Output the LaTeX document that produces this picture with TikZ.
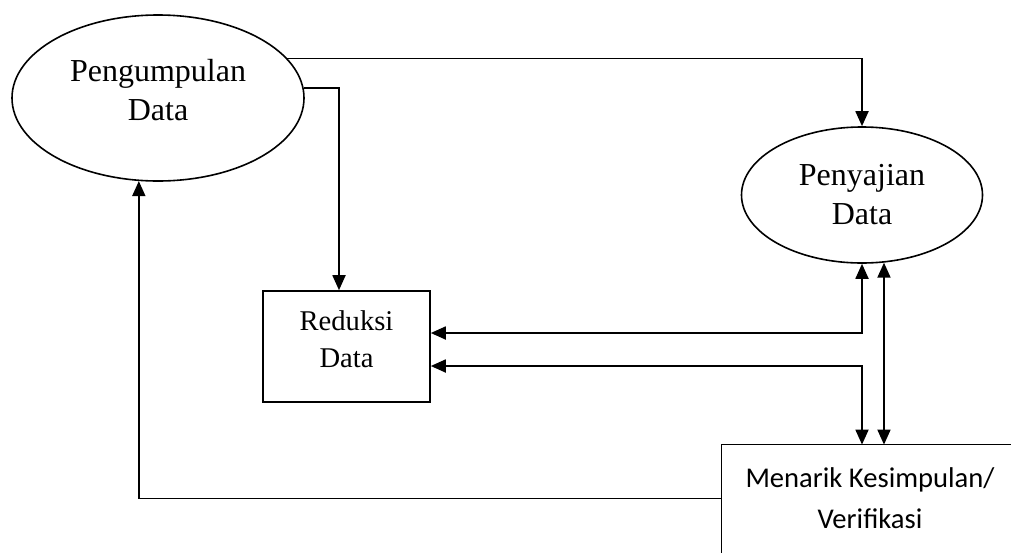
\documentclass[tikz,border=0pt]{standalone}
\usepackage{fontspec}
\setmainfont{Liberation Serif}
\newfontfamily\calibrifont{Carlito}
\usepackage{tikz}
\usetikzlibrary{shapes.geometric,arrows.meta,positioning}

\tikzset{
  stageoval/.style={draw,ellipse,line width=0.8pt,inner sep=0pt,align=center,
    font=\fontsize{16}{19.5}\selectfont},
  stagebox/.style={draw,rectangle,line width=0.8pt,inner sep=0pt,align=center},
  flow/.style={line width=0.9pt,-{Triangle[length=7.5pt,width=6.5pt]}},
  twoway/.style={line width=0.9pt,{Triangle[length=7.5pt,width=6.5pt]}-{Triangle[length=7.5pt,width=6.5pt]}},
}

\begin{document}
\begin{tikzpicture}[x=0.5pt,y=-0.5pt]
  \useasboundingbox (0,0) rectangle (1011,552);
  \clip (0,0) rectangle (1011,552);
  % Stages
  \node[stageoval,minimum width=146pt,minimum height=83pt,text depth=8pt] (kumpul) at (158,98) {Pengumpulan\\Data};
  \node[stageoval,minimum width=120.5pt,minimum height=68pt] (saji) at (862,195) {Penyajian\\Data};
  \node[stagebox,minimum width=83.5pt,minimum height=55.5pt,text depth=7pt,
    font=\fontsize{14.3}{18.5}\selectfont] (reduksi) at (346.5,346.5) {Reduksi\\Data};
  \node[inner sep=0pt,align=center,minimum width=148pt,minimum height=53.5pt,
    font=\calibrifont\fontsize{14.3}{20.5}\selectfont] (simpul) at (870,498.5) {Menarik Kesimpulan/\\Verifikasi};
  % box runs past the page edge
  \draw[line width=0.8pt] (simpul.north west) rectangle ++(400,200);
  % Flows
  \draw[flow] (kumpul.17) -| (saji.north);
  \draw[flow] (kumpul.4) -| ([xshift=-3.75pt]reduksi.north);
  \draw[flow] (simpul.west) -| (kumpul.257);
  % Feedback between stages
  \draw[twoway] (saji.south) |- ([yshift=6.75pt]reduksi.east);
  \draw[twoway] ([yshift=-9.75pt]reduksi.east) -| (simpul.north -| saji.south);
  \draw[twoway] (saji.288) -- (saji.288 |- simpul.north);
\end{tikzpicture}
\end{document}
